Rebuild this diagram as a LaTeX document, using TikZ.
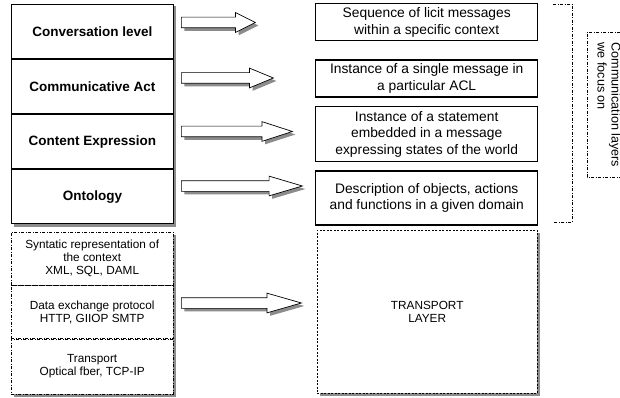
\documentclass[tikz,border=0pt]{standalone}
\usepackage{fontspec}
\setmainfont{Liberation Sans}
\usetikzlibrary{positioning, shapes.arrows, backgrounds, calc}
\colorlet{shadowGrey}{black!45}
\tikzstyle{dashDot} = [dash pattern=on 3pt off 1.5pt on 1pt off 1.5pt]
\tikzstyle{layerBox} = [draw, rectangle, fill=white, line width=0.8pt,
   minimum width=162pt, minimum height=54.25pt, inner sep=0pt,
   font=\bfseries\fontsize{13.5}{16}\selectfont]
\tikzstyle{stackBox} = [draw, rectangle, fill=white, dashDot, align=center,
   minimum width=162pt, inner sep=0pt, font=\fontsize{11.8}{13}\selectfont]
\tikzstyle{descBox} = [draw, rectangle, line width=1.4pt, align=center,
   minimum width=222pt, inner sep=0pt, font=\fontsize{13.8}{16.5}\selectfont]
\tikzstyle{arrowShape} = [single arrow, anchor=tail, inner xsep=0pt, inner ysep=5pt,
   single arrow head extend=4.5pt, line width=0.7pt]
% block arrow with its shadow: name, y, length, tip angle
\newcommand{\layerArrow}[4]{%
  \node[arrowShape, fill=shadowGrey, minimum height=#3, single arrow tip angle=#4]
    at (184,#2+3) {};
  \node[arrowShape, draw, fill=white, minimum height=#3, single arrow tip angle=#4]
    (#1) at (181,#2) {};}

\begin{document}
\begin{tikzpicture}[x=1pt, y=-1pt]
  \useasboundingbox (0,0) rectangle (620,398);
  % protocol stack
  \node[layerBox, anchor=north west] (conv) at (11,4) {Conversation level};
  \node[layerBox, below = 0pt of conv] (act) {Communicative Act};
  \node[layerBox, below = 0pt of act] (cont) {Content Expression};
  \node[layerBox, below = 0pt of cont] (onto) {Ontology};
  \node[stackBox, anchor=north west, minimum height=53pt] (syn) at (11,232)
    {Syntatic representation of\\the context\\XML, SQL, DAML};
  \node[stackBox, below = 0pt of syn, minimum height=53pt] (data)
    {Data exchange protocol\\HTTP, GIIOP SMTP};
  \node[stackBox, below = 0pt of data, minimum height=55pt] (trans)
    {Transport\\Optical fber, TCP-IP};
  % descriptions
  \node[descBox, anchor=north west, minimum height=37pt] (seq) at (315,3)
    {Sequence of licit messages\\within a specific context};
  \node[descBox, below = 18pt of seq, minimum height=37pt] (inst)
    {Instance of a single message in\\a particular ACL};
  \node[descBox, below = 8pt of inst, minimum height=55pt] (stat)
    {Instance of a statement\\embedded in a message\\expressing states of the world};
  \node[descBox, below = 8pt of stat, minimum height=54pt] (desc)
    {Description of objects, actions\\and functions in a given domain};
  \node[draw, rectangle, fill=white, dash pattern=on 2pt off 1.5pt,
    minimum width=220pt, minimum height=163pt, align=center,
    font=\fontsize{11.8}{13}\selectfont, anchor=north west] (tl) at (317,230)
    {TRANSPORT\\LAYER};
  % shadows behind the stacks
  \begin{scope}[on background layer]
    \fill[shadowGrey] ($(conv.north west)+(2.5,2.5)$) rectangle ($(onto.south east)+(2.5,2.5)$);
    \fill[shadowGrey] ($(syn.north west)+(2.5,2.5)$) rectangle ($(trans.south east)+(2.5,2.5)$);
    \fill[shadowGrey] ($(tl.north west)+(3,3)$) rectangle ($(tl.south east)+(3,3)$);
  \end{scope}
  % block arrows
  \layerArrow{a1}{22.5}{74pt}{53}
  \layerArrow{a2}{78}{92pt}{45}
  \layerArrow{a3}{131.5}{111pt}{36}
  \layerArrow{a4}{186}{121pt}{33}
  \layerArrow{a5}{303}{120pt}{32}
  % focus bracket
  \coordinate (bt) at (553,4);
  \coordinate (bb) at (553,222);
  \draw[dashDot] (bt) -- ++(19,0) |- (bb);
  \node[rotate=-90, align=left, font=\fontsize{12.6}{14}\selectfont] (focus) at (609,105)
    {Communication layers\\we focus on};
  \draw[dashDot] (620,32) -| (587,177) -- (620,177);
\end{tikzpicture}
\end{document}
